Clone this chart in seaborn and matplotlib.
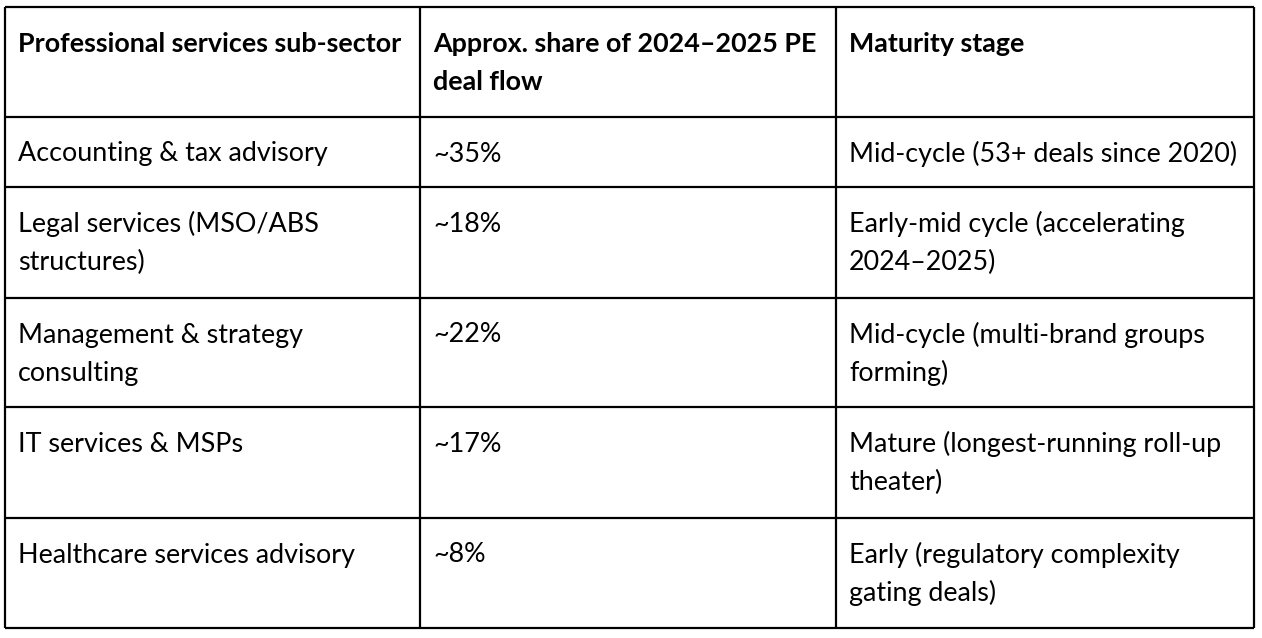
import matplotlib
matplotlib.use("Agg")
import matplotlib.pyplot as plt
import seaborn as sns
import pandas as pd

# table content
headers = [
    "Professional services sub-sector",
    "Approx. share of 2024–2025 PE\ndeal flow",
    "Maturity stage",
]
sub_sectors = [
    "Accounting & tax advisory",
    "Legal services (MSO/ABS\nstructures)",
    "Management & strategy\nconsulting",
    "IT services & MSPs",
    "Healthcare services advisory",
]
deal_shares = ["~35%", "~18%", "~22%", "~17%", "~8%"]
maturity = [
    "Mid-cycle (53+ deals since 2020)",
    "Early-mid cycle (accelerating\n2024–2025)",
    "Mid-cycle (multi-brand groups\nforming)",
    "Mature (longest-running roll-up\ntheater)",
    "Early (regulatory complexity\ngating deals)",
]

df = pd.DataFrame({headers[0]: sub_sectors, headers[1]: deal_shares, headers[2]: maturity})

# grid layout in pixels
col_edges = [5, 420, 836, 1254]
row_edges = [7, 117, 187, 298, 407, 518, 628]
pad_x = 13
first_line = 37
line_gap = 38

sns.set_theme(style="white")
plt.rcParams["font.family"] = ["Lato", "DejaVu Sans"]

fig = plt.figure(figsize=(12.62, 6.38), dpi=100)
ax = fig.add_axes([0, 0, 1, 1])
ax.set_xlim(0, 1262)
ax.set_ylim(638, 0)
ax.axis("off")

rows = [list(df.columns)] + df.values.tolist()
for r, cells in enumerate(rows):
    top = row_edges[r]
    weight = "bold" if r == 0 else "normal"
    for c, cell in enumerate(cells):
        for i, line in enumerate(cell.split("\n")):
            ax.text(col_edges[c] + pad_x, top + first_line + i * line_gap, line,
                    fontsize=19.4, fontweight=weight, color="black",
                    ha="left", va="center")

ax.hlines(row_edges, col_edges[0], col_edges[-1], color="black", lw=1.6)
ax.vlines(col_edges, row_edges[0], row_edges[-1], color="black", lw=1.6)

fig.savefig("out.png", dpi=100, facecolor="white")
